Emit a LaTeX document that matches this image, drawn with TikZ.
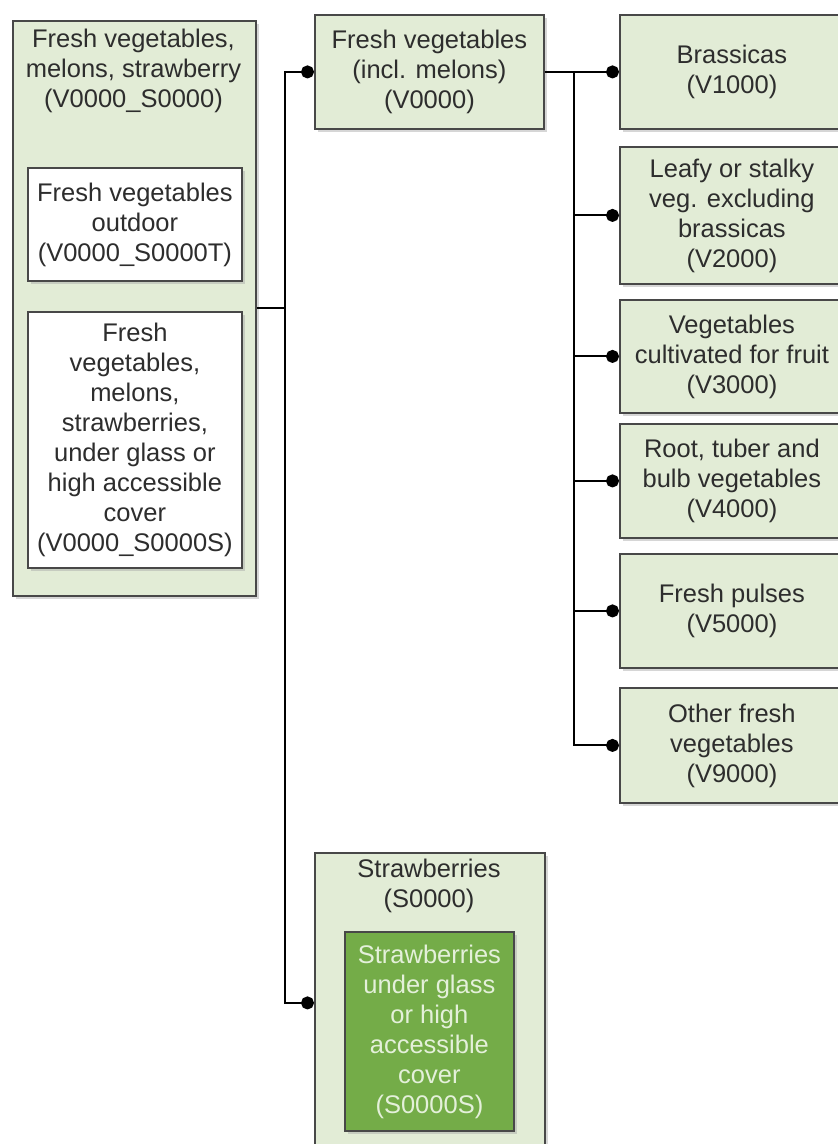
\documentclass[tikz,border=0pt]{standalone}
\usepackage{fontspec}
\setmainfont{Liberation Sans}
\usetikzlibrary{arrows.meta,shadows}
\definecolor{leaf}{RGB}{226,236,214}
\definecolor{moss}{RGB}{116,172,72}
\definecolor{mint}{RGB}{228,240,218}
\definecolor{ink}{RGB}{45,45,45}
\definecolor{frame}{RGB}{72,72,72}
\begin{document}
\begin{tikzpicture}[x=1pt,y=-1pt,
  font=\fontsize{25.5}{30}\selectfont,
  box/.style={draw=frame, line width=1.8pt, fill=leaf, text=ink, align=center,
    anchor=north west, inner sep=0pt,
    drop shadow={shadow xshift=3pt, shadow yshift=-3pt, fill=black!35, opacity=0.45}},
  whitebox/.style={box, fill=white},
  darkbox/.style={box, fill=moss, text=mint},
  caption/.style={text=ink, align=center, inner sep=0pt},
  conn/.style={line width=2pt, draw=black, -{Circle[length=13pt]}},
  trunkline/.style={line width=2pt, draw=black}]
\useasboundingbox (0,0) rectangle (838,1144);
\clip (0,0) rectangle (838,1144);
\fill[white] (0,0) rectangle (838,1144);

% left group: all fresh vegetables, melons and strawberries
\node[box, minimum width=243pt, minimum height=575pt] (all) at (12,20) {};
\node[caption] (alllabel) at (133.5,71) {Fresh vegetables,\\melons, strawberry\\(V0000\_S0000)};
\node[whitebox, minimum width=214pt, minimum height=113pt] (outdoor) at (27,167)
  {Fresh vegetables\\outdoor\\(V0000\_S0000T)};
\node[whitebox, minimum width=214pt, minimum height=256pt] (glass) at (27,311)
  {Fresh\\vegetables,\\melons,\\strawberries,\\under glass or\\high accessible\\cover\\(V0000\_S0000S)};

% second level
\node[box, minimum width=229pt, minimum height=114pt] (veg) at (314,14)
  {Fresh vegetables\\(incl. melons)\\(V0000)};
\node[box, minimum width=230pt, minimum height=300pt] (straw) at (314,852) {};
\node[caption] (strawlabel) at (429,886) {Strawberries\\(S0000)};
\node[darkbox, minimum width=169pt, minimum height=199pt] (strawglass) at (344,931)
  {Strawberries\\under glass\\or high\\accessible\\cover\\(S0000S)};

% vegetable groups
\node[box, minimum width=224pt, minimum height=114pt] (v1) at (619,14) {Brassicas\\(V1000)};
\node[box, minimum width=224pt, minimum height=137pt] (v2) at (619,146)
  {Leafy or stalky\\veg. excluding\\brassicas\\(V2000)};
\node[box, minimum width=224pt, minimum height=113pt] (v3) at (619,299)
  {Vegetables\\cultivated for fruit\\(V3000)};
\node[box, minimum width=224pt, minimum height=114pt] (v4) at (619,423)
  {Root, tuber and\\bulb vegetables\\(V4000)};
\node[box, minimum width=224pt, minimum height=114pt] (v5) at (619,553)
  {Fresh pulses\\(V5000)};
\node[box, minimum width=224pt, minimum height=115pt] (v9) at (619,687)
  {Other fresh\\vegetables\\(V9000)};

% connectors
\coordinate (trunk) at ([xshift=28pt]all.east);
\draw[trunkline] (all.east) -- (trunk);
\draw[conn] (trunk) |- (veg.west);
\draw[conn] (trunk) |- (straw.west);

\coordinate (branch) at ([xshift=29pt]veg.east);
\draw[trunkline] (veg.east) -- (branch);
\foreach \child in {v1,v2,v3,v4,v5,v9}
  \draw[conn] (branch) |- (\child.west);
\end{tikzpicture}
\end{document}
